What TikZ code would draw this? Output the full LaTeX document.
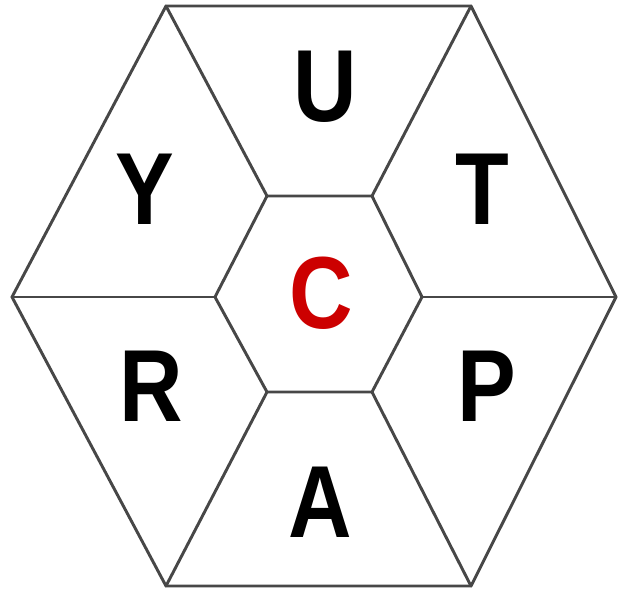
\documentclass[tikz,border=0pt]{standalone}
\usepackage{fontspec}
\setmainfont{Liberation Sans}

\begin{document}
\begin{tikzpicture}[
  x=0.75pt, y=-0.75pt,
  edge/.style={draw=black!72, line width=2.2pt, line join=round, line cap=round},
  letter/.style={font=\fontsize{68}{68}\selectfont\bfseries, text=black, inner sep=0pt},
  centre/.style={letter, text=red!80!black}
]
\useasboundingbox (0,0) rectangle (618,590);

% Outer hexagon corners.
\coordinate (otl) at (166,6);
\coordinate (otr) at (471,6);
\coordinate (or)  at (616,297);
\coordinate (obr) at (471,586);
\coordinate (obl) at (166,586);
\coordinate (ol)  at (12,297);

% Inner hexagon corners.
\coordinate (itl) at (267,196);
\coordinate (itr) at (372,196);
\coordinate (ir)  at (422,297);
\coordinate (ibr) at (372,392);
\coordinate (ibl) at (267,392);
\coordinate (il)  at (215,297);

\draw[edge] (otl) -- (otr) -- (or) -- (obr) -- (obl) -- (ol) -- cycle;
\draw[edge] (itl) -- (itr) -- (ir) -- (ibr) -- (ibl) -- (il) -- cycle;

% Spokes from inner to outer corners.
\draw[edge] (itl) -- (otl);
\draw[edge] (itr) -- (otr);
\draw[edge] (ir) -- (or);
\draw[edge] (ibr) -- (obr);
\draw[edge] (ibl) -- (obl);
\draw[edge] (il) -- (ol);

% Letters in the cells.
\node[letter] (u) at (325,87) {\scalebox{0.97}[1.13]{U}};
\node[letter] (t) at (482,189) {\scalebox{0.97}[1.13]{T}};
\node[letter] (p) at (487,386) {\scalebox{0.97}[1.13]{P}};
\node[letter] (a) at (320,502) {\scalebox{0.97}[1.13]{A}};
\node[letter] (r) at (151,386) {\scalebox{0.97}[1.13]{R}};
\node[letter] (y) at (145,189) {\scalebox{0.97}[1.13]{Y}};
\node[centre] (c) at (321,293) {\scalebox{0.97}[1.13]{C}};

\end{tikzpicture}
\end{document}
